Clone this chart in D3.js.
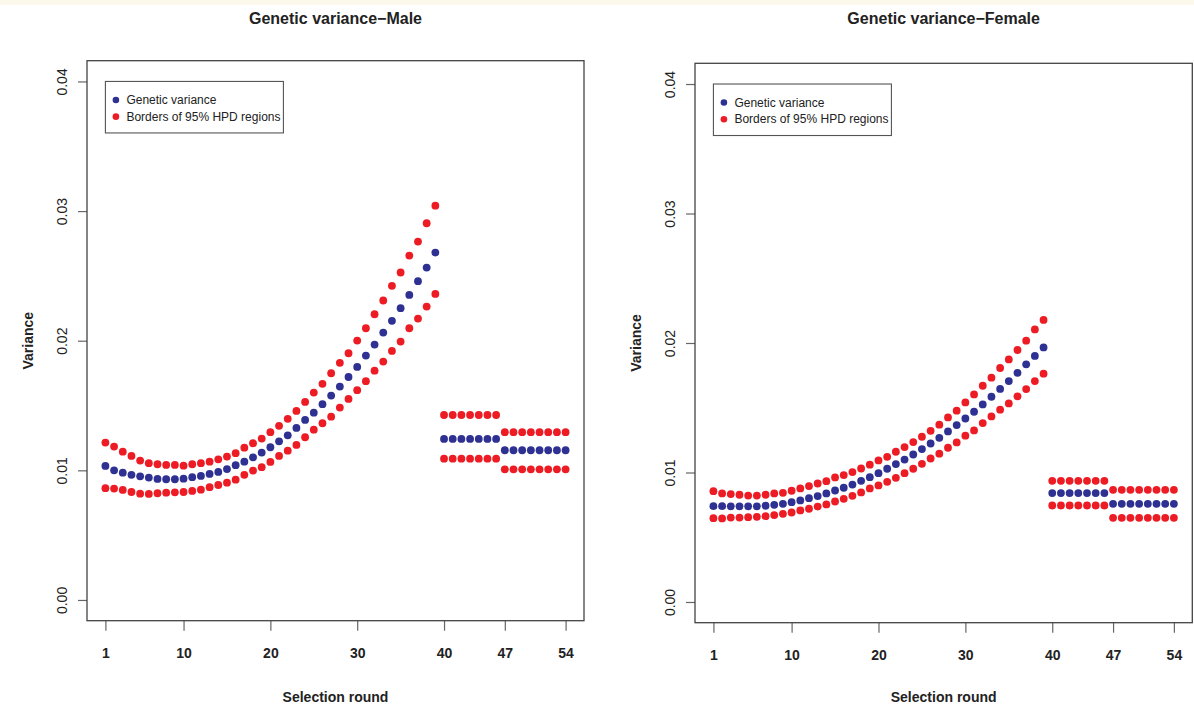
<!DOCTYPE html>
<html>
<head>
<meta charset="utf-8">
<script src="https://cdn.jsdelivr.net/npm/d3@7/dist/d3.min.js"></script>
<style>
  html, body { margin: 0; padding: 0; background: #ffffff; }
  svg { display: block; font-family: "Liberation Sans", Arial, Helvetica, sans-serif; }
</style>
</head>
<body>
<svg id="chart" width="1194" height="710"></svg>
<script>
// ---------------- DATA ----------------
const rounds = d3.range(1, 55); // selection rounds 1..54
const xTickValues = [1, 10, 20, 30, 40, 47, 54];
const yTickValues = [0, 0.01, 0.02, 0.03, 0.04];
const yTickLabels = ["0.00", "0.01", "0.02", "0.03", "0.04"];
const legendLabels = ["Genetic variance", "Borders of 95% HPD regions"];
const panelTitles = ["Genetic variance\u2212Male", "Genetic variance\u2212Female"];

const maleMean = [
  0.01034,0.0100,0.00982,0.00965,0.00954,0.00944,0.00934,0.00931,0.00931,0.00936,
  0.00947,0.00957,0.00972,0.00988,0.0101,0.0104,0.01067,0.0110,0.01137,0.01178,
  0.01224,0.0127,0.01327,0.01389,0.01445,0.0151,0.01577,0.01646,0.0172,0.01798,
  0.01885,0.0197,0.02063,0.02153,0.02251,0.02353,0.02459,0.02564,0.0268,
  0.01242,0.01242,0.01242,0.01242,0.01242,0.01242,0.01242,
  0.01155,0.01155,0.01155,0.01155,0.01155,0.01155,0.01155,0.01155
];
const maleUpper = [
  0.01214,0.01183,0.01144,0.01111,0.01075,0.01055,0.01047,0.01042,0.01042,0.01036,
  0.01047,0.01055,0.01067,0.01085,0.01106,0.01132,0.01175,0.01209,0.01245,0.01294,
  0.01343,0.01397,0.01458,0.01528,0.0160,0.01667,0.01749,0.01829,0.01903,0.02001,
  0.02096,0.02204,0.0231,0.02423,0.02526,0.02657,0.02765,0.02906,0.03042,
  0.01427,0.01427,0.01427,0.01427,0.01427,0.01427,0.01427,
  0.01294,0.01294,0.01294,0.01294,0.01294,0.01294,0.01294,0.01294
];
const maleLower = [
  0.00862,0.00859,0.00849,0.00833,0.0082,0.00818,0.00823,0.00828,0.0083,0.00833,
  0.00841,0.00851,0.0087,0.00887,0.00905,0.00928,0.00965,0.00998,0.01024,0.01065,
  0.01111,0.01152,0.01196,0.01255,0.01314,0.01363,0.01414,0.01484,0.01551,0.01618,
  0.01688,0.01769,0.01839,0.01921,0.01993,0.02096,0.02171,0.02263,0.02361,
  0.0109,0.0109,0.0109,0.0109,0.0109,0.0109,0.0109,
  0.01008,0.01008,0.01008,0.01008,0.01008,0.01008,0.01008,0.01008
];

const femaleMean = [
  0.0074,0.0074,0.00739,0.00739,0.00739,0.00739,0.00743,0.0075,0.00758,0.00771,
  0.00784,0.00802,0.00818,0.00838,0.00861,0.00882,0.00907,0.00936,0.00964,0.00995,
  0.01029,0.01065,0.0110,0.01139,0.01181,0.01224,0.01268,0.01317,0.01366,0.01417,
  0.01469,0.01526,0.01585,0.01645,0.01706,0.0177,0.01835,0.0190,0.01966,
  0.00841,0.00841,0.00841,0.00841,0.00841,0.00841,0.00841,
  0.00758,0.00758,0.00758,0.00758,0.00758,0.00758,0.00758,0.00758
];
const femaleUpper = [
  0.00856,0.00838,0.00833,0.00828,0.00822,0.00822,0.00828,0.00838,0.00843,0.00859,
  0.00877,0.00895,0.00915,0.00933,0.00962,0.0098,0.01003,0.01031,0.0106,0.01093,
  0.01121,0.0116,0.01196,0.01235,0.01276,0.01322,0.01369,0.01425,0.01477,0.01541,
  0.01603,0.0167,0.01732,0.01807,0.01873,0.01946,0.02018,0.02105,0.02178,
  0.00936,0.00936,0.00936,0.00936,0.00936,0.00936,0.00936,
  0.00866,0.00866,0.00866,0.00866,0.00866,0.00866,0.00866,0.00866
];
const femaleLower = [
  0.00647,0.00645,0.00652,0.00652,0.00655,0.00658,0.00663,0.00671,0.00681,0.00691,
  0.00707,0.0072,0.00737,0.00753,0.00776,0.00797,0.0082,0.00846,0.00877,0.0090,
  0.00928,0.00959,0.00995,0.01029,0.01067,0.01108,0.01145,0.01191,0.01232,0.01284,
  0.01325,0.01382,0.01433,0.01485,0.01533,0.01588,0.01644,0.01706,0.01763,
  0.00745,0.00745,0.00745,0.00745,0.00745,0.00745,0.00745,
  0.0065,0.0065,0.0065,0.0065,0.0065,0.0065,0.0065,0.0065
];

// ---------------- STYLE / LAYOUT ----------------
const BLUE = "#2e3192";
const RED = "#ed1c24";
const panels = [
  { title: panelTitles[0], mean: maleMean, upper: maleUpper, lower: maleLower,
    left: 87, right: 584, top: 60.7, bottom: 620.7 },
  { title: panelTitles[1], mean: femaleMean, upper: femaleUpper, lower: femaleLower,
    left: 695, right: 1192.3, top: 63.3, bottom: 622.7 }
];

const svg = d3.select("#chart");
svg.append("rect").attr("x", 0).attr("y", 0).attr("width", 1194).attr("height", 710).attr("fill", "#ffffff");
svg.append("rect").attr("x", 0).attr("y", 0).attr("width", 1194).attr("height", 5).attr("fill", "#fdf8ec");

const xExt = (54 - 1) * 0.04;
const yExt = 0.04 * 0.04;

panels.forEach(p => {
  const x = d3.scaleLinear().domain([1 - xExt, 54 + xExt]).range([p.left, p.right]);
  const y = d3.scaleLinear().domain([0 - yExt, 0.04 + yExt]).range([p.bottom, p.top]);
  const g = svg.append("g");
  const cx = (p.left + p.right) / 2;
  const cy = (p.top + p.bottom) / 2;

  // title
  g.append("text").attr("x", cx).attr("y", 24).attr("text-anchor", "middle")
    .attr("font-size", 16).attr("font-weight", "bold").attr("fill", "#222")
    .text(p.title);

  // x axis
  const xAxis = g.append("g").attr("transform", `translate(0,${p.bottom})`)
    .call(d3.axisBottom(x).tickValues(xTickValues).tickSize(10).tickPadding(17).tickFormat(d3.format("d")));
  xAxis.select(".domain").remove();
  xAxis.selectAll(".tick line").attr("stroke", "#666").attr("stroke-width", 1.2);
  xAxis.selectAll(".tick text").attr("font-size", 14).attr("font-weight", "bold")
    .attr("fill", "#222").attr("font-family", "'Liberation Sans', Arial, sans-serif");

  // y axis
  const yAxis = g.append("g").attr("transform", `translate(${p.left},0)`)
    .call(d3.axisLeft(y).tickValues(yTickValues).tickSize(9)
      .tickFormat((d, i) => yTickLabels[i]));
  yAxis.select(".domain").remove();
  yAxis.selectAll(".tick line").attr("stroke", "#666").attr("stroke-width", 1.2);
  yAxis.selectAll(".tick text")
    .attr("x", null).attr("dy", "0.35em")
    .attr("transform", "translate(-25,0) rotate(-90)")
    .attr("text-anchor", "middle")
    .attr("font-size", 14).attr("fill", "#222")
    .attr("font-family", "'Liberation Sans', Arial, sans-serif");

  // box
  g.append("rect").attr("x", p.left).attr("y", p.top)
    .attr("width", p.right - p.left).attr("height", p.bottom - p.top)
    .attr("fill", "none").attr("stroke", "#444").attr("stroke-width", 1.3);

  // axis titles
  g.append("text").attr("x", cx).attr("y", 702).attr("text-anchor", "middle")
    .attr("font-size", 14).attr("font-weight", "bold").attr("fill", "#222")
    .text("Selection round");
  g.append("text").attr("transform", `translate(${p.left - 59},${cy}) rotate(-90)`)
    .attr("dy", "0.35em")
    .attr("text-anchor", "middle").attr("font-size", 14).attr("font-weight", "bold")
    .attr("fill", "#222").text("Variance");

  // points
  const drawSeries = (vals, color) => {
    g.append("g").selectAll("circle").data(vals).join("circle")
      .attr("cx", (d, i) => x(rounds[i]))
      .attr("cy", d => y(d))
      .attr("r", 3.9)
      .attr("fill", color);
  };
  drawSeries(p.upper, RED);
  drawSeries(p.lower, RED);
  drawSeries(p.mean, BLUE);

  // legend
  const lx = x(1), ly = y(0.04);
  const lg = g.append("g").attr("transform", `translate(${lx},${ly})`);
  lg.append("rect").attr("x", 0).attr("y", 0).attr("width", 178).attr("height", 51.5)
    .attr("fill", "#fff").attr("stroke", "#555").attr("stroke-width", 1.1);
  [BLUE, RED].forEach((c, i) => {
    lg.append("circle").attr("cx", 10.5).attr("cy", 18.5 + i * 16.7).attr("r", 3.3).attr("fill", c);
    lg.append("text").attr("x", 21).attr("y", 18.5 + i * 16.7).attr("dy", "0.35em")
      .attr("font-size", 12).attr("fill", "#222").text(legendLabels[i]);
  });
});
</script>
</body>
</html>
